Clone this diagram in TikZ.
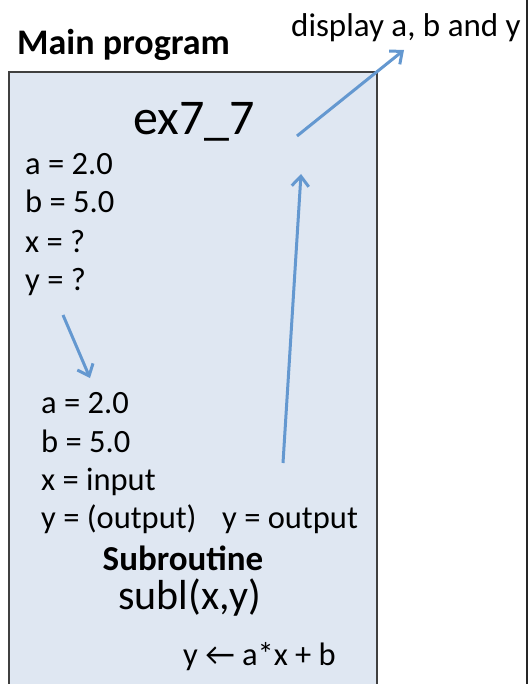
\documentclass[tikz,border=0pt]{standalone}
\usepackage{fontspec}
\setmainfont{Carlito}
\usetikzlibrary{arrows.meta, positioning}
\definecolor{boxfill}{RGB}{223,231,242}
\definecolor{flowblue}{RGB}{100,152,208}
\begin{document}
\begin{tikzpicture}[
  x=1pt, y=-1pt,
  code/.style={anchor=base west, inner sep=0pt, font=\fontsize{32.5}{38}\selectfont},
  heading/.style={anchor=base west, inner sep=0pt, font=\fontsize{36}{42}\selectfont\bfseries},
  flow/.style={-{Straight Barb[length=3.5mm, width=6mm]}, line width=3pt, flowblue}
]
\useasboundingbox (0,0) rectangle (531,684);
\fill[boxfill] (9,72) rectangle (377,690);
\draw[line width=1.2pt, black!75] (9,690) -- (9,72) -- (377,72) -- (377,690);
\draw[line width=2pt, black!85] (527,0) -- (527,684);

\node[heading] (main) at (17,55) {Main program};
\node[code, font=\fontsize{33}{39}\selectfont] (disp) at (291,37) {display a, b and y};
\node[code, font=\fontsize{50}{60}\selectfont] (prog) at (133,135) {ex7\_7};

\node[code] (ma) at (25,175) {a = 2.0};
\node[code] (mb) at (25,213) {b = 5.0};
\node[code] (mx) at (25,252) {x = ?};
\node[code] (my) at (25,290) {y = ?};

\node[code] (sa) at (41,413) {a = 2.0};
\node[code] (sb) at (41,452) {b = 5.0};
\node[code] (sx) at (41,490) {x = input};
\node[code] (sy) at (41,528) {y = (output)};
\node[code] (yout) at (222,528) {y = output};

\node[heading, anchor=base, font=\fontsize{35}{41}\selectfont\bfseries] (sub) at (183,570) {Subroutine};
\node[code, anchor=base, font=\fontsize{42}{50}\selectfont] (subl) at (190,609) {subl(x,y)};
\node[code] (calc) at (183,665) {y \char"2190{} a*x + b};

\coordinate (passtop) at (63,315);
\coordinate (passend) at (90,378);
\coordinate (retbot) at (283,463);
\coordinate (rettop) at (301,174);
\coordinate (showbot) at (297,136);
\coordinate (showtop) at (404,50);

\draw[flow] (passtop) -- (passend);
\draw[flow] (retbot) -- (rettop);
\draw[flow] (showbot) -- (showtop);
\end{tikzpicture}
\end{document}
